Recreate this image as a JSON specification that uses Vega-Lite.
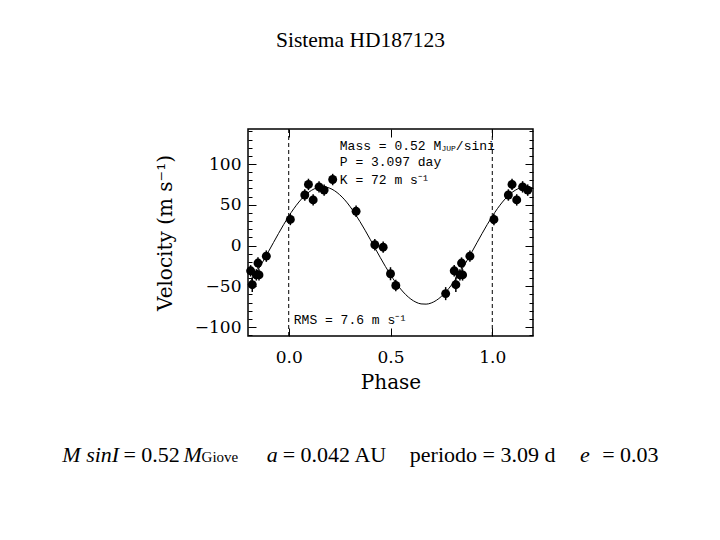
{
  "$schema": "https://vega.github.io/schema/vega-lite/v6.json",
  "width": 285,
  "height": 207,
  "autosize": {"type": "none"},
  "padding": {"left": 248, "top": 129, "right": 187, "bottom": 204},
  "background": "white",
  "title": {"text": "Sistema HD187123", "font": "Liberation Serif", "fontSize": 21.5, "fontWeight": "normal", "color": "black", "anchor": "middle", "dx": -30, "offset": 54, "baseline": "alphabetic"},
  "datasets": {
    "obs": [
      {"phase": -0.187, "v": -31, "err": 7},
      {"phase": -0.179, "v": -48, "err": 9},
      {"phase": -0.159, "v": -36, "err": 7},
      {"phase": -0.146, "v": -36, "err": 7},
      {"phase": -0.151, "v": -21.5, "err": 7},
      {"phase": -0.110, "v": -13, "err": 7},
      {"phase": 0.008, "v": 32, "err": 7},
      {"phase": 0.079, "v": 62, "err": 7},
      {"phase": 0.097, "v": 75, "err": 7},
      {"phase": 0.120, "v": 56, "err": 7},
      {"phase": 0.149, "v": 72, "err": 7},
      {"phase": 0.174, "v": 68, "err": 7},
      {"phase": 0.216, "v": 81, "err": 7},
      {"phase": 0.331, "v": 42, "err": 7},
      {"phase": 0.423, "v": 1, "err": 7},
      {"phase": 0.464, "v": -2, "err": 7},
      {"phase": 0.500, "v": -34.6, "err": 8},
      {"phase": 0.526, "v": -49, "err": 7},
      {"phase": 0.771, "v": -59, "err": 8},
      {"phase": 0.813, "v": -31, "err": 7},
      {"phase": 0.821, "v": -48, "err": 9},
      {"phase": 0.841, "v": -36, "err": 7},
      {"phase": 0.854, "v": -36, "err": 7},
      {"phase": 0.849, "v": -21.5, "err": 7},
      {"phase": 0.890, "v": -13, "err": 7},
      {"phase": 1.008, "v": 32, "err": 7},
      {"phase": 1.079, "v": 62, "err": 7},
      {"phase": 1.097, "v": 75, "err": 7},
      {"phase": 1.120, "v": 56, "err": 7},
      {"phase": 1.149, "v": 72, "err": 7},
      {"phase": 1.174, "v": 68, "err": 7}
    ],
    "model": [
      {"phase": -0.200, "v": -48.3}, {"phase": -0.175, "v": -39.3}, {"phase": -0.150, "v": -29.4},
      {"phase": -0.125, "v": -18.8}, {"phase": -0.100, "v": -7.7}, {"phase": -0.075, "v": 3.6},
      {"phase": -0.050, "v": 14.8}, {"phase": -0.025, "v": 25.7}, {"phase": 0.000, "v": 35.9},
      {"phase": 0.025, "v": 45.2}, {"phase": 0.050, "v": 53.4}, {"phase": 0.075, "v": 60.3},
      {"phase": 0.100, "v": 65.7}, {"phase": 0.125, "v": 69.5}, {"phase": 0.150, "v": 71.6},
      {"phase": 0.175, "v": 71.9}, {"phase": 0.200, "v": 70.5}, {"phase": 0.225, "v": 67.3},
      {"phase": 0.250, "v": 62.4}, {"phase": 0.275, "v": 56.1}, {"phase": 0.300, "v": 48.3},
      {"phase": 0.325, "v": 39.3}, {"phase": 0.350, "v": 29.4}, {"phase": 0.375, "v": 18.8},
      {"phase": 0.400, "v": 7.7}, {"phase": 0.425, "v": -3.6}, {"phase": 0.450, "v": -14.8},
      {"phase": 0.475, "v": -25.7}, {"phase": 0.500, "v": -35.9}, {"phase": 0.525, "v": -45.2},
      {"phase": 0.550, "v": -53.4}, {"phase": 0.575, "v": -60.3}, {"phase": 0.600, "v": -65.7},
      {"phase": 0.625, "v": -69.5}, {"phase": 0.650, "v": -71.6}, {"phase": 0.675, "v": -71.9},
      {"phase": 0.700, "v": -70.5}, {"phase": 0.725, "v": -67.3}, {"phase": 0.750, "v": -62.4},
      {"phase": 0.775, "v": -56.1}, {"phase": 0.800, "v": -48.3}, {"phase": 0.825, "v": -39.3},
      {"phase": 0.850, "v": -29.4}, {"phase": 0.875, "v": -18.8}, {"phase": 0.900, "v": -7.7},
      {"phase": 0.925, "v": 3.6}, {"phase": 0.950, "v": 14.8}, {"phase": 0.975, "v": 25.7},
      {"phase": 1.000, "v": 35.9}, {"phase": 1.025, "v": 45.2}, {"phase": 1.050, "v": 53.4},
      {"phase": 1.075, "v": 60.3}, {"phase": 1.100, "v": 65.7}, {"phase": 1.125, "v": 69.5},
      {"phase": 1.150, "v": 71.6}, {"phase": 1.175, "v": 71.9}, {"phase": 1.200, "v": 70.5}
    ]
  },
  "config": {
    "view": {"stroke": "black", "strokeWidth": 1.5},
    "axis": {"domain": false, "grid": false, "labelFont": "DejaVu Serif", "labelFontSize": 17, "labelColor": "black", "titleFont": "DejaVu Serif", "titleFontSize": 20, "titleFontWeight": "normal", "titleColor": "black", "tickColor": "black", "tickWidth": 1, "labelFlush": false, "labelOverlap": false, "labelBound": false}
  },
  "resolve": {"axis": {"x": "independent", "y": "independent"}},
  "layer": [
    {
      "data": {"name": "model"},
      "mark": {"type": "line", "color": "black", "strokeWidth": 1, "interpolate": "monotone"},
      "encoding": {
        "x": {"field": "phase", "type": "quantitative", "scale": {"domain": [-0.2, 1.2], "nice": false, "zero": false},
              "axis": {"orient": "bottom", "values": [0, 0.5, 1], "format": ".1f", "tickSize": -8, "labelPadding": 21, "title": "Phase", "titlePadding": 7}},
        "y": {"field": "v", "type": "quantitative", "scale": {"domain": [-111, 143], "nice": false, "zero": false},
              "axis": {"orient": "left", "values": [-110, -100, -90, -80, -70, -60, -50, -40, -30, -20, -10, 0, 10, 20, 30, 40, 50, 60, 70, 80, 90, 100, 110, 120, 130, 140],
                       "labelExpr": "datum.value % 50 === 0 ? datum.label : ''",
                       "tickSize": {"condition": {"test": "datum.value % 50 === 0", "value": -8}, "value": -4},
                       "labelPadding": 15, "title": "Velocity (m s⁻¹)", "titlePadding": 19}}
      }
    },
    {
      "data": {"name": "obs"},
      "mark": {"type": "point", "filled": true, "shape": "circle", "size": 80, "color": "black", "opacity": 1},
      "encoding": {
        "x": {"field": "phase", "type": "quantitative",
              "axis": {"orient": "top", "values": [0, 0.5, 1], "labels": false, "tickSize": -8, "title": null}},
        "y": {"field": "v", "type": "quantitative",
              "axis": {"orient": "right", "values": [-110, -100, -90, -80, -70, -60, -50, -40, -30, -20, -10, 0, 10, 20, 30, 40, 50, 60, 70, 80, 90, 100, 110, 120, 130, 140],
                       "labels": false,
                       "tickSize": {"condition": {"test": "datum.value % 50 === 0", "value": -8}, "value": -4}, "title": null}}
      }
    },
    {
      "data": {"name": "obs"},
      "mark": {"type": "errorbar", "color": "black", "thickness": 1.5},
      "encoding": {
        "x": {"field": "phase", "type": "quantitative", "axis": null},
        "y": {"field": "v", "type": "quantitative", "axis": null},
        "yError": {"field": "err"}
      }
    },
    {
      "data": {"values": [{"p": 0}, {"p": 1}]},
      "mark": {"type": "rule", "color": "black", "strokeWidth": 1, "strokeDash": [4, 3]},
      "encoding": {"x": {"field": "p", "type": "quantitative", "axis": null}}
    },
    {
      "data": {"values": [{}]},
      "mark": {"type": "text", "align": "left", "baseline": "middle", "font": "Liberation Mono", "fontSize": 13, "color": "black"},
      "encoding": {"x": {"datum": 0.251, "type": "quantitative", "axis": null}, "y": {"datum": 122, "type": "quantitative", "axis": null}, "text": {"value": "Mass = 0.52 M"}}
    },
    {
      "data": {"values": [{}]},
      "mark": {"type": "text", "align": "left", "baseline": "middle", "font": "Liberation Mono", "fontSize": 8, "color": "black"},
      "encoding": {"x": {"datum": 0.75, "type": "quantitative", "axis": null}, "y": {"datum": 118, "type": "quantitative", "axis": null}, "text": {"value": "JUP"}}
    },
    {
      "data": {"values": [{}]},
      "mark": {"type": "text", "align": "left", "baseline": "middle", "font": "Liberation Mono", "fontSize": 13, "color": "black"},
      "encoding": {"x": {"datum": 0.821, "type": "quantitative", "axis": null}, "y": {"datum": 122, "type": "quantitative", "axis": null}, "text": {"value": "/sini"}}
    },
    {
      "data": {"values": [{}]},
      "mark": {"type": "text", "align": "left", "baseline": "middle", "font": "Liberation Mono", "fontSize": 13, "color": "black"},
      "encoding": {"x": {"datum": 0.251, "type": "quantitative", "axis": null}, "y": {"datum": 102, "type": "quantitative", "axis": null}, "text": {"value": "P = 3.097 day"}}
    },
    {
      "data": {"values": [{}]},
      "mark": {"type": "text", "align": "left", "baseline": "middle", "font": "Liberation Mono", "fontSize": 13, "color": "black"},
      "encoding": {"x": {"datum": 0.251, "type": "quantitative", "axis": null}, "y": {"datum": 81, "type": "quantitative", "axis": null}, "text": {"value": "K = 72 m s⁻¹"}}
    },
    {
      "data": {"values": [{}]},
      "mark": {"type": "text", "align": "left", "baseline": "middle", "font": "Liberation Mono", "fontSize": 13, "color": "black"},
      "encoding": {"x": {"datum": 0.025, "type": "quantitative", "axis": null}, "y": {"datum": -91, "type": "quantitative", "axis": null}, "text": {"value": "RMS = 7.6 m s⁻¹"}}
    },
    {
      "data": {"values": [{}]},
      "mark": {"type": "text", "align": "left", "baseline": "alphabetic", "font": "Liberation Serif", "fontSize": 22, "fontStyle": "italic", "color": "black"},
      "encoding": {"x": {"datum": -1.112, "type": "quantitative", "axis": null}, "y": {"datum": -265, "type": "quantitative", "axis": null}, "text": {"value": "M sinI"}}
    },
    {
      "data": {"values": [{}]},
      "mark": {"type": "text", "align": "left", "baseline": "alphabetic", "font": "Liberation Serif", "fontSize": 22, "color": "black"},
      "encoding": {"x": {"datum": -0.812, "type": "quantitative", "axis": null}, "y": {"datum": -265, "type": "quantitative", "axis": null}, "text": {"value": "= 0.52"}}
    },
    {
      "data": {"values": [{}]},
      "mark": {"type": "text", "align": "left", "baseline": "alphabetic", "font": "Liberation Serif", "fontSize": 22, "fontStyle": "italic", "color": "black"},
      "encoding": {"x": {"datum": -0.5165, "type": "quantitative", "axis": null}, "y": {"datum": -265, "type": "quantitative", "axis": null}, "text": {"value": "M"}}
    },
    {
      "data": {"values": [{}]},
      "mark": {"type": "text", "align": "left", "baseline": "alphabetic", "font": "Liberation Serif", "fontSize": 15, "color": "black"},
      "encoding": {"x": {"datum": -0.428, "type": "quantitative", "axis": null}, "y": {"datum": -265, "type": "quantitative", "axis": null}, "text": {"value": "Giove"}}
    },
    {
      "data": {"values": [{}]},
      "mark": {"type": "text", "align": "left", "baseline": "alphabetic", "font": "Liberation Serif", "fontSize": 22, "fontStyle": "italic", "color": "black"},
      "encoding": {"x": {"datum": -0.108, "type": "quantitative", "axis": null}, "y": {"datum": -265, "type": "quantitative", "axis": null}, "text": {"value": "a"}}
    },
    {
      "data": {"values": [{}]},
      "mark": {"type": "text", "align": "left", "baseline": "alphabetic", "font": "Liberation Serif", "fontSize": 22, "color": "black"},
      "encoding": {"x": {"datum": -0.0295, "type": "quantitative", "axis": null}, "y": {"datum": -265, "type": "quantitative", "axis": null}, "text": {"value": "= 0.042 AU"}}
    },
    {
      "data": {"values": [{}]},
      "mark": {"type": "text", "align": "left", "baseline": "alphabetic", "font": "Liberation Serif", "fontSize": 22, "color": "black"},
      "encoding": {"x": {"datum": 0.595, "type": "quantitative", "axis": null}, "y": {"datum": -265, "type": "quantitative", "axis": null}, "text": {"value": "periodo = 3.09 d"}}
    },
    {
      "data": {"values": [{}]},
      "mark": {"type": "text", "align": "left", "baseline": "alphabetic", "font": "Liberation Serif", "fontSize": 22, "fontStyle": "italic", "color": "black"},
      "encoding": {"x": {"datum": 1.431, "type": "quantitative", "axis": null}, "y": {"datum": -265, "type": "quantitative", "axis": null}, "text": {"value": "e"}}
    },
    {
      "data": {"values": [{}]},
      "mark": {"type": "text", "align": "left", "baseline": "alphabetic", "font": "Liberation Serif", "fontSize": 22, "color": "black"},
      "encoding": {"x": {"datum": 1.5396, "type": "quantitative", "axis": null}, "y": {"datum": -265, "type": "quantitative", "axis": null}, "text": {"value": "= 0.03"}}
    }
  ]
}
